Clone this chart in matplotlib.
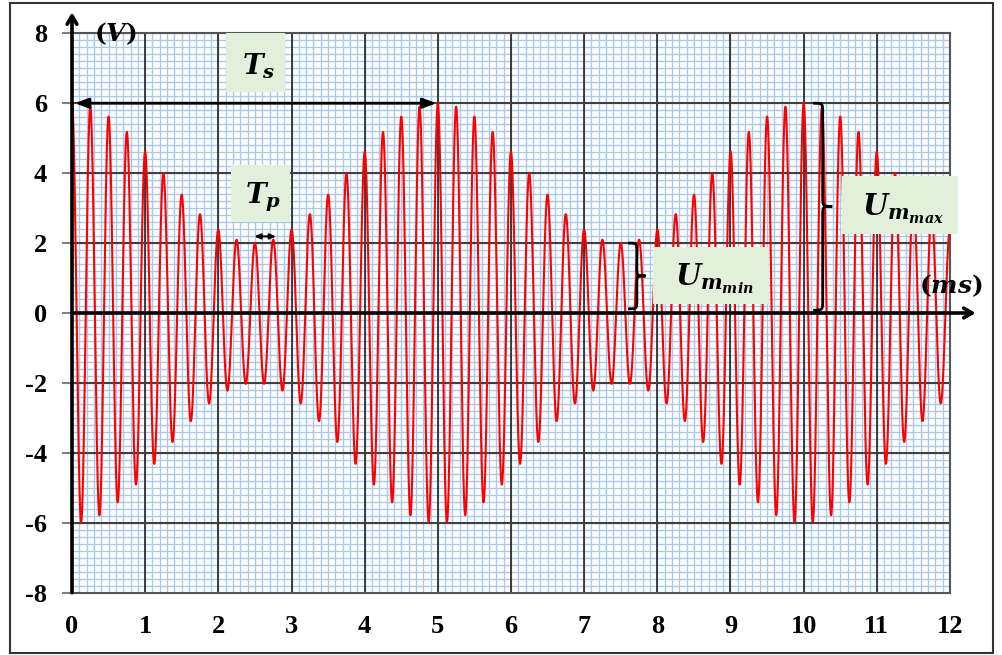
import numpy as np
import matplotlib
matplotlib.use("Agg")
import matplotlib.pyplot as plt
from matplotlib.patches import Rectangle, PathPatch
from matplotlib.path import Path

# ---- values ----
Um_max = 6.0      # V, max envelope amplitude
Um_min = 2.0      # V, min envelope amplitude
Ts = 5.0          # ms, modulating signal period
Tp = 0.25         # ms, carrier period
t_end = 12.0      # ms
x_ticks = list(range(0, 13))
y_ticks = list(range(-8, 9, 2))

plt.rcParams['font.family'] = ['Liberation Serif', 'DejaVu Serif']
plt.rcParams['font.weight'] = 'bold'
plt.rcParams['axes.unicode_minus'] = False
plt.rcParams['mathtext.fontset'] = 'custom'
plt.rcParams['mathtext.it'] = 'DejaVu Serif:italic:bold'
plt.rcParams['mathtext.rm'] = 'DejaVu Serif:bold'
plt.rcParams['mathtext.bf'] = 'DejaVu Serif:bold'

fig = plt.figure(figsize=(10.02, 6.55), dpi=100)
ax = fig.add_axes([72/1002, 1-592.7/655, (950-72)/1002, (592.7-33.3)/655])

A = (Um_max + Um_min) / 2
B = (Um_max - Um_min) / 2
t = np.linspace(0, t_end, 24001)
u = (A + B*np.cos(2*np.pi*t/Ts)) * np.cos(2*np.pi*t/Tp)

ax.set_xlim(0, 12)
ax.set_ylim(-8, 8)

# minor grid
for xv in np.arange(0, 12.001, 0.1):
    ax.axvline(xv, color='#a9c9ea', lw=1.0, zorder=0.5)
for yv in np.arange(-8, 8.001, 0.2):
    ax.axhline(yv, color='#a9c9ea', lw=1.0, zorder=0.5)
# major grid
for xv in x_ticks[1:-1]:
    ax.axvline(xv, color='#111111', lw=1.1, zorder=1)
for yv in y_ticks[1:-1]:
    ax.axhline(yv, color='#404040', lw=1.5, zorder=1)

ax.set_xticks(x_ticks)
ax.set_yticks(y_ticks)
ax.set_xticklabels([str(v) for v in x_ticks], fontsize=19, fontweight='bold',
                   fontfamily='Liberation Serif')
ax.set_yticklabels([str(v) for v in y_ticks], fontsize=19, fontweight='bold',
                   fontfamily='Liberation Serif')
ax.tick_params(axis='x', which='major', length=0, pad=16)
ax.tick_params(axis='y', which='major', length=7, width=1.5, color='#7f7f7f', pad=11)

for s in ['top', 'right', 'bottom']:
    ax.spines[s].set_color('#555555')
    ax.spines[s].set_linewidth(1.5)
ax.spines['left'].set_visible(False)

ax.plot(t, u, color='#ff0000', lw=1.5, zorder=3)

# axes with arrows
ax.annotate('', xy=(0, 8.6), xytext=(0, -8), annotation_clip=False,
            arrowprops=dict(arrowstyle='->,head_length=0.6,head_width=0.35', lw=2.6, color='black',
                            shrinkA=0, shrinkB=0), zorder=5)
ax.annotate('', xy=(12.35, 0), xytext=(0, 0), annotation_clip=False,
            arrowprops=dict(arrowstyle='->,head_length=0.6,head_width=0.35', lw=2.6, color='black',
                            shrinkA=0, shrinkB=0), zorder=5)

# Ts and Tp arrows
ax.annotate('', xy=(4.98, 6), xytext=(0.04, 6),
            arrowprops=dict(arrowstyle='<|-|>,head_length=0.8,head_width=0.3', lw=2, color='black',
                            shrinkA=0, shrinkB=0), zorder=6)
ax.annotate('', xy=(2.79, 2.19), xytext=(2.49, 2.19),
            arrowprops=dict(arrowstyle='<|-|>,head_length=0.35,head_width=0.15', lw=1.5, color='black',
                            shrinkA=0, shrinkB=0), zorder=6)

def brace(x0, x1, ytop, ybot, ymid, d):
    xm = (x0 + x1) / 2
    verts = [(x0, ytop), (xm, ytop), (xm, ytop), (xm, ytop - d),
             (xm, ymid + d),
             (xm, ymid), (xm, ymid), (x1, ymid),
             (xm, ymid), (xm, ymid), (xm, ymid - d),
             (xm, ybot + d),
             (xm, ybot), (xm, ybot), (x0, ybot)]
    codes = [Path.MOVETO, Path.CURVE4, Path.CURVE4, Path.CURVE4,
             Path.LINETO,
             Path.CURVE4, Path.CURVE4, Path.CURVE4,
             Path.CURVE4, Path.CURVE4, Path.CURVE4,
             Path.LINETO,
             Path.CURVE4, Path.CURVE4, Path.CURVE4]
    ax.add_patch(PathPatch(Path(verts, codes), fill=False, lw=2, color='black',
                           zorder=6, clip_on=False))

brace(7.6, 7.84, 2.0, 0.12, 1.06, 0.25)
brace(10.13, 10.39, 6.0, 0.08, 3.05, 0.28)

box_color = '#e2efda'
def box(x0, x1, y0, y1, label, size, dx=0.04, dy=-0.1):
    ax.add_patch(Rectangle((x0, y0), x1 - x0, y1 - y0, facecolor=box_color,
                           edgecolor='none', zorder=7, clip_on=False))
    ax.text((x0 + x1)/2 + dx, (y0 + y1)/2 + dy, label, ha='center', va='center',
            fontsize=size, zorder=8)

box(2.10, 2.91, 6.32, 8.0, r'$T_s$', 20)
box(2.17, 2.98, 2.60, 4.23, r'$T_p$', 20)
box(7.94, 9.53, 0.26, 1.89, r'$U_{m_{min}}$', 21)
box(10.52, 12.11, 2.26, 3.92, r'$U_{m_{max}}$', 21)

ax.text(0.59, 8.0, r'$(V)$', ha='center', va='center', fontsize=18, zorder=8)
ax.text(12.01, 0.78, r'$(ms)$', ha='center', va='center', fontsize=18, zorder=8, clip_on=False)

# outer frame
fig.add_artist(Rectangle((10/1002, 2/655), 983/1002, 650/655, transform=fig.transFigure,
                         fill=False, edgecolor='#333333', lw=1.5))

fig.savefig('out.png', dpi=100)
